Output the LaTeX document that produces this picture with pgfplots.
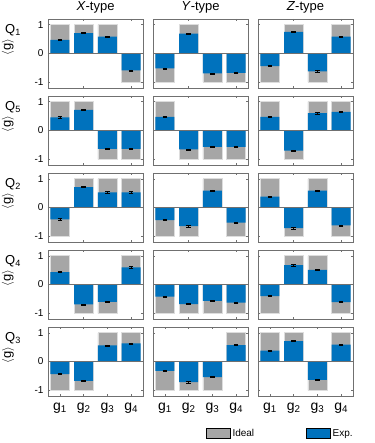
\documentclass[border=0pt]{standalone}
\usepackage{pgfplots}
\pgfplotsset{compat=1.18}
\usepackage{pgfplotstable}
\usepgfplotslibrary{groupplots}
\usepackage{fontspec}
\setmainfont{Liberation Sans}

\definecolor{expblue}{HTML}{0072BD}
\definecolor{idealgray}{HTML}{A6A6A6}
\definecolor{idealedge}{HTML}{DDDDDD}
\definecolor{axiscol}{HTML}{707070}

% columns: g, ideal / experiment for X-, Y- and Z-type
\pgfplotstableread{
g iX eX iY eY iZ eZ
1 1 0.47 -1 -0.52 -1 -0.44
2 1 0.71 1 0.69 1 0.75
3 1 0.59 -1 -0.69 -1 -0.62
4 -1 -0.59 -1 -0.67 1 0.59
}\qone
\pgfplotstableread{
g iX eX iY eY iZ eZ
1 1 0.46 1 0.47 1 0.47
2 1 0.72 -1 -0.66 -1 -0.70
3 -1 -0.64 -1 -0.57 1 0.60
4 -1 -0.64 -1 -0.57 1 0.65
}\qfive
\pgfplotstableread{
g iX eX iY eY iZ eZ
1 -1 -0.41 -1 -0.44 1 0.38
2 1 0.71 -1 -0.65 -1 -0.72
3 1 0.53 1 0.59 1 0.59
4 1 0.53 -1 -0.53 -1 -0.62
}\qtwo
\pgfplotstableread{
g iX eX iY eY iZ eZ
1 1 0.43 -1 -0.42 -1 -0.40
2 -1 -0.69 -1 -0.68 1 0.67
3 -1 -0.60 -1 -0.57 1 0.51
4 1 0.60 -1 -0.63 -1 -0.61
}\qfour
\pgfplotstableread{
g iX eX iY eY iZ eZ
1 -1 -0.44 -1 -0.33 1 0.38
2 -1 -0.67 -1 -0.72 1 0.71
3 1 0.56 -1 -0.54 -1 -0.64
4 1 0.63 1 0.57 1 0.59
}\qthree

\pgfplotsset{
  idealbar/.style={ybar, bar width=0.8, bar shift=0pt, fill=idealgray, draw=idealedge, line width=0.6pt},
  expbar/.style={ybar, bar width=0.8, bar shift=0pt, fill=expblue, draw=none,
    error bars/.cd, y dir=both, y fixed=0.02,
    error bar style={black, line width=0.5pt},
    error mark options={black, rotate=90, mark size=2.3pt, line width=0.5pt}},
}
\newcommand{\panel}[2]{%
  \addplot[idealbar] table[x=g, y=i#2] {#1};
  \addplot[expbar] table[x=g, y=e#2] {#1};
  \draw[axiscol, line width=0.6pt] (axis cs:0.5,0) -- (axis cs:4.5,0);
}
\newcommand{\rowlab}[1]{%
  \node[font=\fontsize{13}{14}\selectfont] at ([xshift=-35pt]rel axis cs:0,0.84) {Q\textsubscript{#1}};
  \node[rotate=90, font=\fontsize{13}{14}\selectfont] at ([xshift=-40pt]rel axis cs:0,0.594) {$\langle$g$\rangle$};
}

\begin{document}
\begin{tikzpicture}
\begin{groupplot}[
  group style={group size=3 by 5, horizontal sep=10pt, vertical sep=8pt,
    xticklabels at=edge bottom, yticklabels at=edge left},
  scale only axis, width=95pt, height=69pt, clip=false,
  xmin=0.5, xmax=4.5, ymin=-1.2, ymax=1.2,
  xtick={2,4}, xticklabels={},
  ytick={-1,0,1},
  tick align=inside, major tick length=2pt,
  axis line style={axiscol, line width=0.6pt},
  tick style={axiscol, line width=0.5pt},
  ticklabel style={font=\fontsize{10}{12}\selectfont},
  /pgf/number format/assume math mode=true,
  yticklabel style={xshift=-1pt},
  title style={font=\fontsize{13}{15}\selectfont, yshift=-4pt},
]
\nextgroupplot[title={\textit{X}-type}]
\coordinate (tl) at (rel axis cs:0,1);
\panel{\qone}{X}\rowlab{1}
\nextgroupplot[title={\textit{Y}-type}]
\panel{\qone}{Y}
\nextgroupplot[title={\textit{Z}-type}]
\panel{\qone}{Z}

\nextgroupplot
\panel{\qfive}{X}\rowlab{5}
\nextgroupplot
\panel{\qfive}{Y}
\nextgroupplot
\panel{\qfive}{Z}

\nextgroupplot
\panel{\qtwo}{X}\rowlab{2}
\nextgroupplot
\panel{\qtwo}{Y}
\nextgroupplot
\panel{\qtwo}{Z}

\nextgroupplot
\panel{\qfour}{X}\rowlab{4}
\nextgroupplot
\panel{\qfour}{Y}
\nextgroupplot
\panel{\qfour}{Z}

\nextgroupplot[xtick={1,2,3,4},
  xticklabels={g\textsubscript{1}, g\textsubscript{2}, g\textsubscript{3}, g\textsubscript{4}},
  xticklabel style={font=\fontsize{14}{16}\selectfont, yshift=-3pt}]
\panel{\qthree}{X}\rowlab{3}
\nextgroupplot[xtick={1,2,3,4},
  xticklabels={g\textsubscript{1}, g\textsubscript{2}, g\textsubscript{3}, g\textsubscript{4}},
  xticklabel style={font=\fontsize{14}{16}\selectfont, yshift=-3pt}]
\panel{\qthree}{Y}
\nextgroupplot[xtick={1,2,3,4},
  xticklabels={g\textsubscript{1}, g\textsubscript{2}, g\textsubscript{3}, g\textsubscript{4}},
  xticklabel style={font=\fontsize{14}{16}\selectfont, yshift=-3pt},
  legend style={at={(rel axis cs:-0.58,-0.42)}, anchor=north west, draw=none, fill=none,
    legend columns=2, font=\fontsize{10}{12}\selectfont,
    /tikz/every even column/.append style={column sep=50pt}},
  legend image code/.code={\fill[#1] (0pt,-5pt) rectangle (24pt,5pt);}]
\addlegendimage{fill=idealgray}\addlegendentry{Ideal}
\addlegendimage{fill=expblue}\addlegendentry{Exp.}
\panel{\qthree}{Z}
\end{groupplot}
\pgfresetboundingbox
\path (tl) ++(-48pt,19pt) rectangle ++(374pt,-443pt);
\end{tikzpicture}
\end{document}
